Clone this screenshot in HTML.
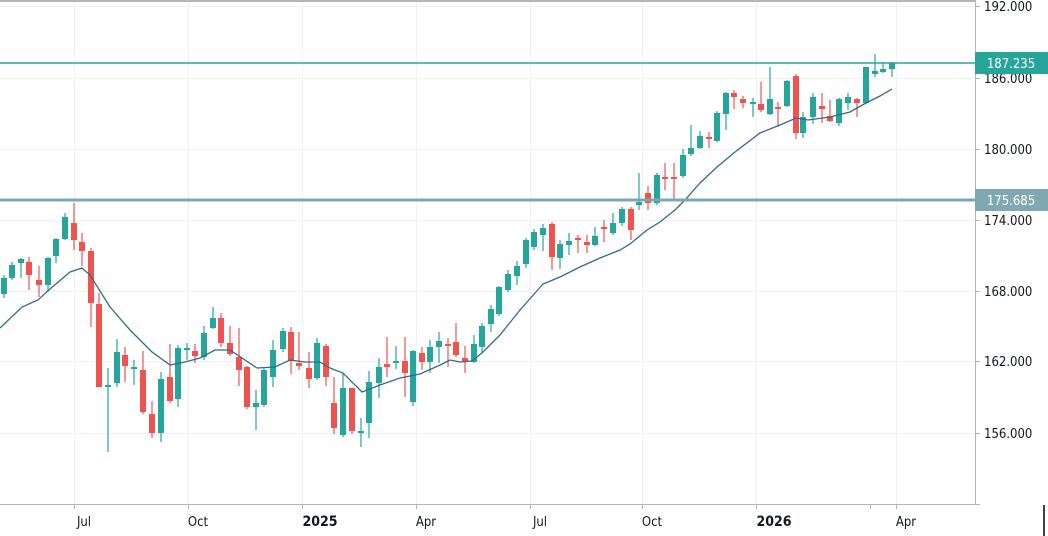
<!DOCTYPE html>
<html><head><meta charset="utf-8"><style>
html,body{margin:0;padding:0;background:#fff;width:1048px;height:536px;overflow:hidden}
svg{display:block}
text{font-family:"DejaVu Sans Condensed","DejaVu Sans","Liberation Sans",sans-serif;font-size:13px;fill:#131722}
</style></head><body>
<svg id="s" width="1048" height="536" xmlns="http://www.w3.org/2000/svg">
<rect width="1048" height="536" fill="#fff"/>
<g id="grid" stroke="#f0f2f5" stroke-width="1"></g>
<line x1="0" y1="1" x2="975" y2="1" stroke="#b2b5be" stroke-width="2"/>
<line x1="975.5" y1="0" x2="975.5" y2="505" stroke="#b2b5be"/>
<line x1="0" y1="504.5" x2="980" y2="504.5" stroke="#b2b5be"/>
<line x1="1044" y1="505" x2="1044" y2="536" stroke="#000" stroke-width="1.5"/>
<g id="c"></g>
<polyline fill="none" stroke="#2f6b8c" stroke-width="1.3" points="0,328 22,307 38,300 50,289 70,272 82,268 90,275 110,307 130,330 152,352 170,365 185,362 200,358 215,350 230,350 245,360 257,368 275,367 290,360 305,362 320,362 330,368 343,373 362,392 380,385 400,378 420,374 438,366 450,360 460,362 472,361 483,352 500,335 520,310 543,284 560,277 580,267 600,258 620,250 630,244 647,230 660,222 675,210 685,200 700,183 717,167 735,152 760,133 780,125 796,118 808,120 830,117 850,112 866,103 880,96 892,89"/>
<line x1="0" y1="63" x2="975" y2="63" stroke="#26a69a" stroke-width="1.5"/>
<line x1="0" y1="200" x2="975" y2="200" stroke="#7ca7b0" stroke-width="3"/>
<g id="ax"></g>
<rect x="975" y="52" width="73" height="22" fill="#26a69a"/>
<text x="1011" y="68" text-anchor="middle" style="fill:#fff">187.235</text>
<rect x="975" y="189" width="73" height="22" fill="#80a8b1"/>
<text x="1011" y="205" text-anchor="middle" style="fill:#fff">175.685</text>
</svg>
<script>
var NS="http://www.w3.org/2000/svg";
function el(p,t,a,txt){var e=document.createElementNS(NS,t);for(var k in a)e.setAttribute(k,a[k]);if(txt)e.textContent=txt;p.appendChild(e);return e;}
var g=document.getElementById('grid'),ax=document.getElementById('ax');
var ticks=[[192,6],[186,78],[180,149],[174,220],[168,291],[162,361],[156,433]];
ticks.forEach(function(t){el(g,'line',{x1:0,y1:t[1]+.5,x2:975,y2:t[1]+.5});
el(ax,'line',{x1:975,y1:t[1]+.5,x2:980,y2:t[1]+.5,stroke:'#b2b5be'});
el(ax,'text',{x:984,y:t[1]+5},t[0].toFixed(3));});
var vx=[[74,'Jul',0],[188,'Oct',0],[302,'2025',1],[416,'Apr',0],[530,'Jul',0],[642,'Oct',0],[756,'2026',1],[896,'Apr',0]];
vx.forEach(function(v){el(g,'line',{x1:v[0]+.5,y1:0,x2:v[0]+.5,y2:504});
el(ax,'line',{x1:v[0]+.5,y1:504,x2:v[0]+.5,y2:509,stroke:'#b2b5be'});
var t=el(ax,'text',{x:v[0]+(v[2]?18:10),y:526,'text-anchor':'middle'},v[1]);if(v[2])t.setAttribute('style','font-weight:bold;font-size:14px');});
el(ax,'line',{x1:870.5,y1:504,x2:870.5,y2:509,stroke:'#b2b5be'});
// x, up?, bodyTop, bodyBot, wickTop, wickBot
var d=[
[4,1,278,294,275,298],[12,1,265,278,262,280],[21,1,259,263,258,278],[29,0,262,275,257,290],[39,0,280,285,266,297],[48,1,258,285,257,292],[56,1,239,256,238,263],[65,1,217,239,213,240],[74,0,223,240,203,250],[82,0,242,251,233,266],[91,0,251,303,248,327],[99,0,304,387,293,387],[108,1,385,387,368,452],[117,1,352,383,339,387],[125,0,355,366,347,382],[134,1,367,369,360,385],[143,0,370,412,351,414],[152,0,414,433,401,438],[161,1,379,433,372,442],[170,0,377,401,344,403],[178,1,348,399,345,407],[187,1,348,350,343,360],[195,0,351,356,344,363],[204,1,333,357,326,360],[213,1,318,328,307,329],[221,0,318,343,313,347],[230,0,343,354,326,356],[239,0,357,370,328,386],[247,0,367,407,366,409],[256,1,403,407,390,430],[264,1,370,405,368,407],[273,1,350,377,340,387],[283,1,331,349,328,352],[291,0,332,361,327,374],[299,0,363,366,332,370],[309,0,368,379,352,388],[317,1,343,378,338,380],[326,0,346,377,344,386],[334,0,403,428,377,434],[343,1,388,435,373,437],
[352,0,388,431,388,434],[361,1,431,433,418,447],[369,1,382,423,371,438],[379,1,367,383,358,398],[387,0,364,367,337,377],[396,1,361,363,346,369],[405,0,361,373,337,397],[413,1,351,402,350,406],[422,0,353,362,347,370],[430,1,347,362,340,373],[439,1,341,347,332,363],[448,0,344,346,338,367],[456,0,342,355,323,357],[465,0,358,362,346,373],[474,1,344,362,335,363],[482,1,326,347,323,353],[491,1,309,324,305,332],[499,1,287,314,286,316],[508,1,274,290,270,292],[517,1,266,276,261,285],[526,1,240,264,238,268],[534,1,232,247,229,250],[543,1,228,235,224,251],[552,0,224,257,222,270],[560,1,244,258,240,269],[569,1,241,245,233,255],[578,0,238,240,235,253],[587,0,242,245,235,253],[595,1,236,245,227,246],[604,0,227,228,220,242],[613,1,223,233,213,235],[622,1,209,223,207,226],[631,0,209,230,207,240],
[639,1,202,205,173,210],[648,0,193,203,186,210],[657,1,175,203,173,205],[665,0,177,179,163,190],[674,0,177,178,163,200],[683,1,155,176,149,178],[691,1,148,154,125,156],[700,1,136,148,131,149],[709,0,137,138,132,148],[717,1,113,141,111,142],[726,1,93,114,92,130],[734,0,93,97,90,109],[743,0,99,103,96,108],[753,1,102,104,98,117],[761,0,104,110,82,112],[770,1,99,114,67,115],[778,0,107,109,102,127],[787,1,81,106,80,107],[796,0,76,133,74,139],[803,1,117,133,112,138],[813,1,97,117,93,124],[822,0,106,109,93,123],[830,0,116,121,100,122],[839,1,99,123,98,126],[848,1,97,103,93,110],[857,0,99,103,98,117],[866,1,67,103,67,104],[875,1,71,74,54,77],[883,1,69,72,62,73],[892,1,63,69,62,77]];
var c=document.getElementById('c');
d.forEach(function(k){var col=k[1]?'#26a69a':'#ef5350';
el(c,'line',{x1:k[0],y1:k[4],x2:k[0],y2:k[5],stroke:col,'stroke-width':1.2});
el(c,'rect',{x:k[0]-3,y:k[2],width:6,height:Math.max(2,k[3]-k[2]),fill:col});});
</script>
</body></html>
